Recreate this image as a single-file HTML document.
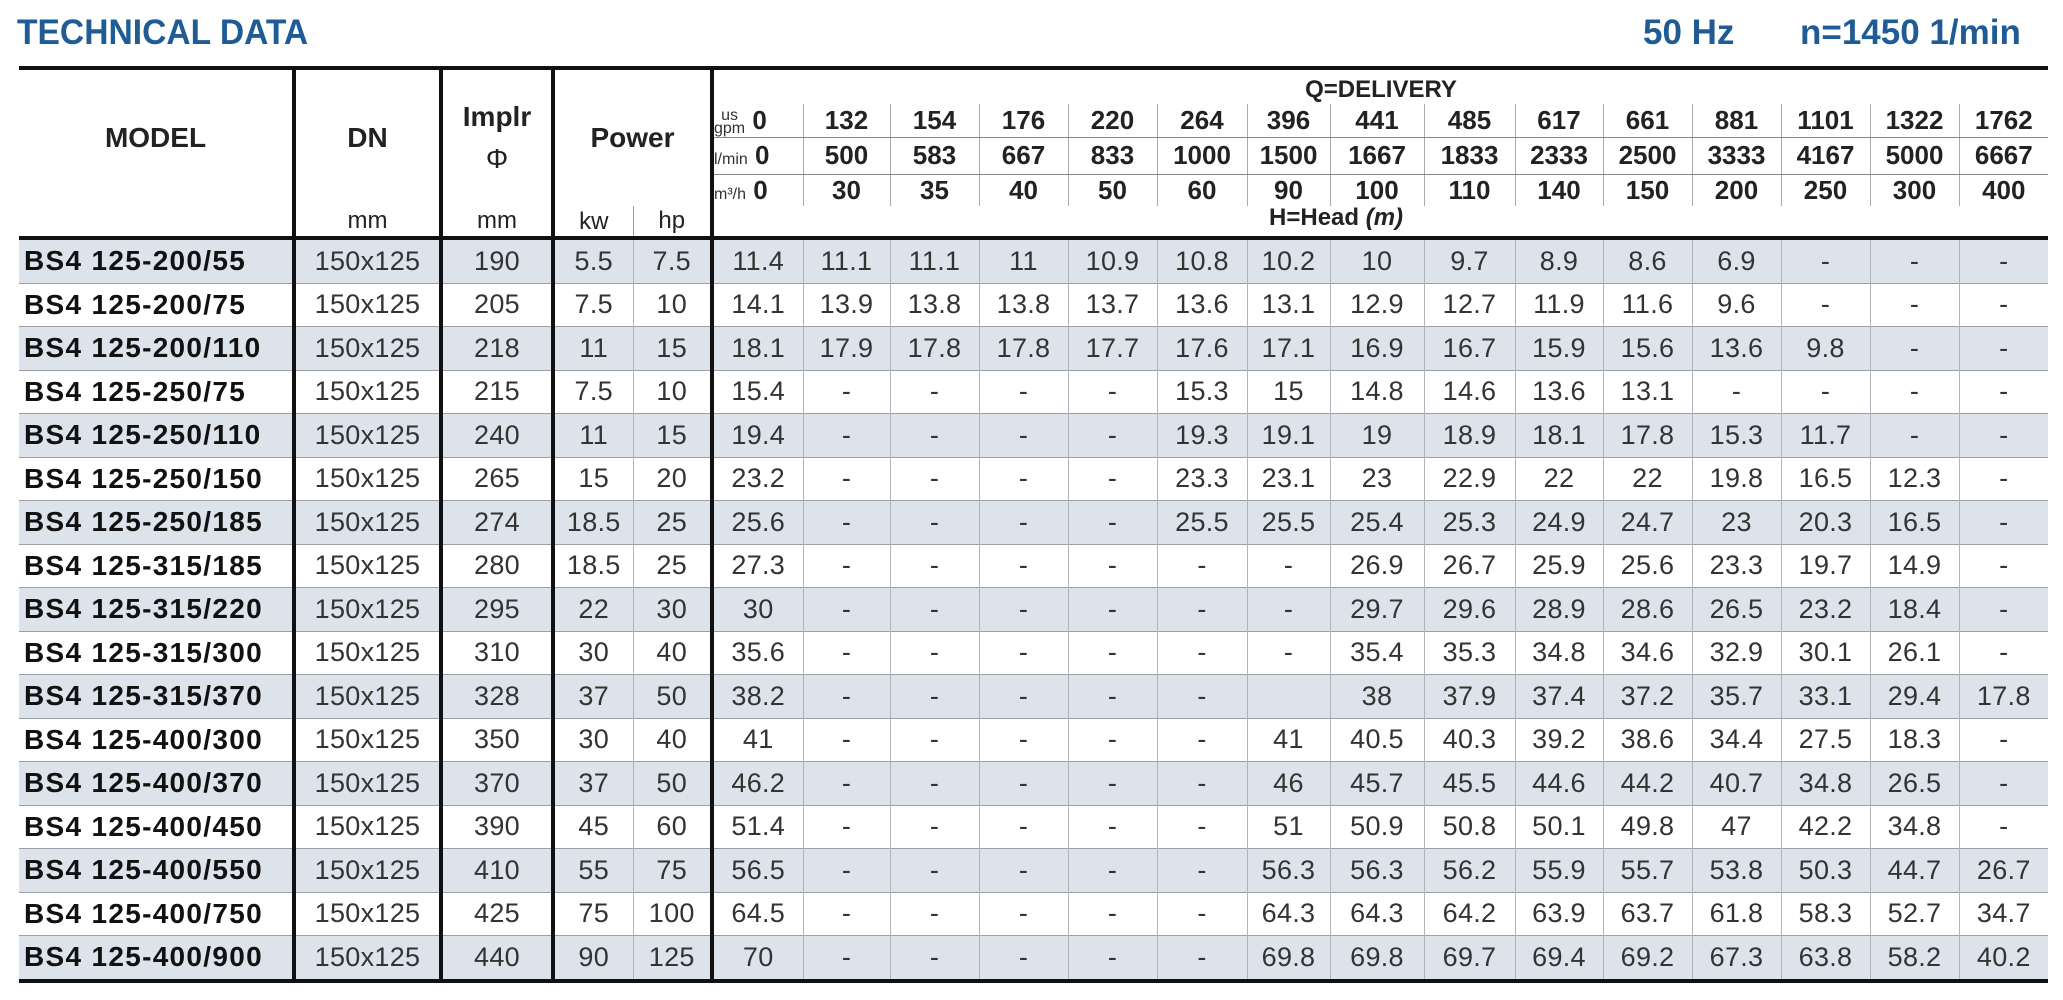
<!DOCTYPE html>
<html><head><meta charset="utf-8"><style>
body{margin:0;width:2063px;height:1000px;background:#fff;font-family:"Liberation Sans",sans-serif;position:relative;overflow:hidden}
.t{position:absolute;top:13px;font-weight:bold;color:#1f5c96;font-size:35px;transform-origin:left top;white-space:nowrap}
table{position:absolute;left:19px;top:66px;border-collapse:collapse;table-layout:fixed;width:2029px}
td{padding:0;text-align:center;vertical-align:middle;white-space:nowrap;overflow:hidden}
.hd td{font-weight:bold;color:#222}
tbody.d td{height:42.5px;font-size:27px;color:#333;letter-spacing:0.3px;border-top:1px solid #9aa0a6;border-left:1px solid #b0b4b8}
tbody.d tr:nth-child(odd) td{background:#dde3ea}
tbody.d td.m{text-align:left;padding-left:5px;font-weight:bold;color:#111;letter-spacing:1.3px;font-size:28px;border-left:none}
.K{border-left:4px solid #111 !important}
.u{font-size:16px;font-weight:normal;color:#333;letter-spacing:0}
</style></head><body>
<div class="t" style="left:17px;transform:scaleX(0.96)">TECHNICAL DATA</div>
<div class="t" style="left:1643px">50 Hz</div>
<div class="t" style="left:1800px">n=1450 1/min</div>
<table>
<colgroup><col style="width:275px"><col style="width:147px"><col style="width:112px"><col style="width:80px"><col style="width:79px">
<col style="width:91px"><col style="width:87px"><col style="width:89px"><col style="width:89px"><col style="width:89px"><col style="width:90px"><col style="width:83px"><col style="width:94px"><col style="width:91px"><col style="width:88px"><col style="width:89px"><col style="width:89px"><col style="width:89px"><col style="width:89px"><col style="width:89px"></colgroup>
<tbody class="hd">
<tr style="height:36px;border-top:4px solid #111"><td rowspan="4" style="font-size:28px">MODEL</td><td rowspan="4" class="K" style="font-size:28px">DN</td><td rowspan="4" class="K" style="font-size:28px;line-height:42px">Implr<br><span style="font-weight:normal">Φ</span></td><td rowspan="4" colspan="2" class="K" style="font-size:28px">Power</td><td colspan="15" class="K" style="font-size:24px;vertical-align:bottom">Q=DELIVERY</td></tr>
<tr style="height:33px;font-size:26px"><td class="K" style="text-align:left;border-bottom:1px solid #888"><span class="u" style="display:inline-block;line-height:13px;vertical-align:middle;text-align:center">us<br>gpm</span> 0</td>
<td style="border-left:1px solid #aaa;border-bottom:1px solid #888">132</td><td style="border-left:1px solid #aaa;border-bottom:1px solid #888">154</td><td style="border-left:1px solid #aaa;border-bottom:1px solid #888">176</td><td style="border-left:1px solid #aaa;border-bottom:1px solid #888">220</td><td style="border-left:1px solid #aaa;border-bottom:1px solid #888">264</td><td style="border-left:1px solid #aaa;border-bottom:1px solid #888">396</td><td style="border-left:1px solid #aaa;border-bottom:1px solid #888">441</td><td style="border-left:1px solid #aaa;border-bottom:1px solid #888">485</td><td style="border-left:1px solid #aaa;border-bottom:1px solid #888">617</td><td style="border-left:1px solid #aaa;border-bottom:1px solid #888">661</td><td style="border-left:1px solid #aaa;border-bottom:1px solid #888">881</td><td style="border-left:1px solid #aaa;border-bottom:1px solid #888">1101</td><td style="border-left:1px solid #aaa;border-bottom:1px solid #888">1322</td><td style="border-left:1px solid #aaa;border-bottom:1px solid #888">1762</td></tr>
<tr style="height:37px;font-size:26px"><td class="K" style="text-align:left;border-bottom:1px solid #888"><span class="u">l/min</span> 0</td>
<td style="border-left:1px solid #aaa;border-bottom:1px solid #888">500</td><td style="border-left:1px solid #aaa;border-bottom:1px solid #888">583</td><td style="border-left:1px solid #aaa;border-bottom:1px solid #888">667</td><td style="border-left:1px solid #aaa;border-bottom:1px solid #888">833</td><td style="border-left:1px solid #aaa;border-bottom:1px solid #888">1000</td><td style="border-left:1px solid #aaa;border-bottom:1px solid #888">1500</td><td style="border-left:1px solid #aaa;border-bottom:1px solid #888">1667</td><td style="border-left:1px solid #aaa;border-bottom:1px solid #888">1833</td><td style="border-left:1px solid #aaa;border-bottom:1px solid #888">2333</td><td style="border-left:1px solid #aaa;border-bottom:1px solid #888">2500</td><td style="border-left:1px solid #aaa;border-bottom:1px solid #888">3333</td><td style="border-left:1px solid #aaa;border-bottom:1px solid #888">4167</td><td style="border-left:1px solid #aaa;border-bottom:1px solid #888">5000</td><td style="border-left:1px solid #aaa;border-bottom:1px solid #888">6667</td></tr>
<tr style="height:32px;font-size:26px"><td class="K" style="text-align:left"><span class="u">m³/h</span> 0</td>
<td style="border-left:1px solid #aaa">30</td><td style="border-left:1px solid #aaa">35</td><td style="border-left:1px solid #aaa">40</td><td style="border-left:1px solid #aaa">50</td><td style="border-left:1px solid #aaa">60</td><td style="border-left:1px solid #aaa">90</td><td style="border-left:1px solid #aaa">100</td><td style="border-left:1px solid #aaa">110</td><td style="border-left:1px solid #aaa">140</td><td style="border-left:1px solid #aaa">150</td><td style="border-left:1px solid #aaa">200</td><td style="border-left:1px solid #aaa">250</td><td style="border-left:1px solid #aaa">300</td><td style="border-left:1px solid #aaa">400</td></tr>
<tr style="height:32px;border-bottom:4px solid #111"><td></td><td class="K" style="font-weight:normal;font-size:24px">mm</td><td class="K" style="font-weight:normal;font-size:24px">mm</td><td class="K" style="font-weight:normal;font-size:24px;vertical-align:bottom">kw</td><td style="font-weight:normal;font-size:24px;border-left:1px solid #999">hp</td><td colspan="15" class="K" style="font-size:24px;line-height:24px;vertical-align:top;padding-right:90px">H=Head <i>(m)</i></td></tr>
</tbody>
<tbody class="d" style="border-bottom:4px solid #111">
<tr><td class="m">BS4 125-200/55</td><td class="K">150x125</td><td class="K">190</td><td class="K">5.5</td><td>7.5</td><td class="K">11.4</td><td>11.1</td><td>11.1</td><td>11</td><td>10.9</td><td>10.8</td><td>10.2</td><td>10</td><td>9.7</td><td>8.9</td><td>8.6</td><td>6.9</td><td>-</td><td>-</td><td>-</td></tr>
<tr><td class="m">BS4 125-200/75</td><td class="K">150x125</td><td class="K">205</td><td class="K">7.5</td><td>10</td><td class="K">14.1</td><td>13.9</td><td>13.8</td><td>13.8</td><td>13.7</td><td>13.6</td><td>13.1</td><td>12.9</td><td>12.7</td><td>11.9</td><td>11.6</td><td>9.6</td><td>-</td><td>-</td><td>-</td></tr>
<tr><td class="m">BS4 125-200/110</td><td class="K">150x125</td><td class="K">218</td><td class="K">11</td><td>15</td><td class="K">18.1</td><td>17.9</td><td>17.8</td><td>17.8</td><td>17.7</td><td>17.6</td><td>17.1</td><td>16.9</td><td>16.7</td><td>15.9</td><td>15.6</td><td>13.6</td><td>9.8</td><td>-</td><td>-</td></tr>
<tr><td class="m">BS4 125-250/75</td><td class="K">150x125</td><td class="K">215</td><td class="K">7.5</td><td>10</td><td class="K">15.4</td><td>-</td><td>-</td><td>-</td><td>-</td><td>15.3</td><td>15</td><td>14.8</td><td>14.6</td><td>13.6</td><td>13.1</td><td>-</td><td>-</td><td>-</td><td>-</td></tr>
<tr><td class="m">BS4 125-250/110</td><td class="K">150x125</td><td class="K">240</td><td class="K">11</td><td>15</td><td class="K">19.4</td><td>-</td><td>-</td><td>-</td><td>-</td><td>19.3</td><td>19.1</td><td>19</td><td>18.9</td><td>18.1</td><td>17.8</td><td>15.3</td><td>11.7</td><td>-</td><td>-</td></tr>
<tr><td class="m">BS4 125-250/150</td><td class="K">150x125</td><td class="K">265</td><td class="K">15</td><td>20</td><td class="K">23.2</td><td>-</td><td>-</td><td>-</td><td>-</td><td>23.3</td><td>23.1</td><td>23</td><td>22.9</td><td>22</td><td>22</td><td>19.8</td><td>16.5</td><td>12.3</td><td>-</td></tr>
<tr><td class="m">BS4 125-250/185</td><td class="K">150x125</td><td class="K">274</td><td class="K">18.5</td><td>25</td><td class="K">25.6</td><td>-</td><td>-</td><td>-</td><td>-</td><td>25.5</td><td>25.5</td><td>25.4</td><td>25.3</td><td>24.9</td><td>24.7</td><td>23</td><td>20.3</td><td>16.5</td><td>-</td></tr>
<tr><td class="m">BS4 125-315/185</td><td class="K">150x125</td><td class="K">280</td><td class="K">18.5</td><td>25</td><td class="K">27.3</td><td>-</td><td>-</td><td>-</td><td>-</td><td>-</td><td>-</td><td>26.9</td><td>26.7</td><td>25.9</td><td>25.6</td><td>23.3</td><td>19.7</td><td>14.9</td><td>-</td></tr>
<tr><td class="m">BS4 125-315/220</td><td class="K">150x125</td><td class="K">295</td><td class="K">22</td><td>30</td><td class="K">30</td><td>-</td><td>-</td><td>-</td><td>-</td><td>-</td><td>-</td><td>29.7</td><td>29.6</td><td>28.9</td><td>28.6</td><td>26.5</td><td>23.2</td><td>18.4</td><td>-</td></tr>
<tr><td class="m">BS4 125-315/300</td><td class="K">150x125</td><td class="K">310</td><td class="K">30</td><td>40</td><td class="K">35.6</td><td>-</td><td>-</td><td>-</td><td>-</td><td>-</td><td>-</td><td>35.4</td><td>35.3</td><td>34.8</td><td>34.6</td><td>32.9</td><td>30.1</td><td>26.1</td><td>-</td></tr>
<tr><td class="m">BS4 125-315/370</td><td class="K">150x125</td><td class="K">328</td><td class="K">37</td><td>50</td><td class="K">38.2</td><td>-</td><td>-</td><td>-</td><td>-</td><td>-</td><td></td><td>38</td><td>37.9</td><td>37.4</td><td>37.2</td><td>35.7</td><td>33.1</td><td>29.4</td><td>17.8</td></tr>
<tr><td class="m">BS4 125-400/300</td><td class="K">150x125</td><td class="K">350</td><td class="K">30</td><td>40</td><td class="K">41</td><td>-</td><td>-</td><td>-</td><td>-</td><td>-</td><td>41</td><td>40.5</td><td>40.3</td><td>39.2</td><td>38.6</td><td>34.4</td><td>27.5</td><td>18.3</td><td>-</td></tr>
<tr><td class="m">BS4 125-400/370</td><td class="K">150x125</td><td class="K">370</td><td class="K">37</td><td>50</td><td class="K">46.2</td><td>-</td><td>-</td><td>-</td><td>-</td><td>-</td><td>46</td><td>45.7</td><td>45.5</td><td>44.6</td><td>44.2</td><td>40.7</td><td>34.8</td><td>26.5</td><td>-</td></tr>
<tr><td class="m">BS4 125-400/450</td><td class="K">150x125</td><td class="K">390</td><td class="K">45</td><td>60</td><td class="K">51.4</td><td>-</td><td>-</td><td>-</td><td>-</td><td>-</td><td>51</td><td>50.9</td><td>50.8</td><td>50.1</td><td>49.8</td><td>47</td><td>42.2</td><td>34.8</td><td>-</td></tr>
<tr><td class="m">BS4 125-400/550</td><td class="K">150x125</td><td class="K">410</td><td class="K">55</td><td>75</td><td class="K">56.5</td><td>-</td><td>-</td><td>-</td><td>-</td><td>-</td><td>56.3</td><td>56.3</td><td>56.2</td><td>55.9</td><td>55.7</td><td>53.8</td><td>50.3</td><td>44.7</td><td>26.7</td></tr>
<tr><td class="m">BS4 125-400/750</td><td class="K">150x125</td><td class="K">425</td><td class="K">75</td><td>100</td><td class="K">64.5</td><td>-</td><td>-</td><td>-</td><td>-</td><td>-</td><td>64.3</td><td>64.3</td><td>64.2</td><td>63.9</td><td>63.7</td><td>61.8</td><td>58.3</td><td>52.7</td><td>34.7</td></tr>
<tr><td class="m">BS4 125-400/900</td><td class="K">150x125</td><td class="K">440</td><td class="K">90</td><td>125</td><td class="K">70</td><td>-</td><td>-</td><td>-</td><td>-</td><td>-</td><td>69.8</td><td>69.8</td><td>69.7</td><td>69.4</td><td>69.2</td><td>67.3</td><td>63.8</td><td>58.2</td><td>40.2</td></tr>
</tbody>
</table>
</body></html>
